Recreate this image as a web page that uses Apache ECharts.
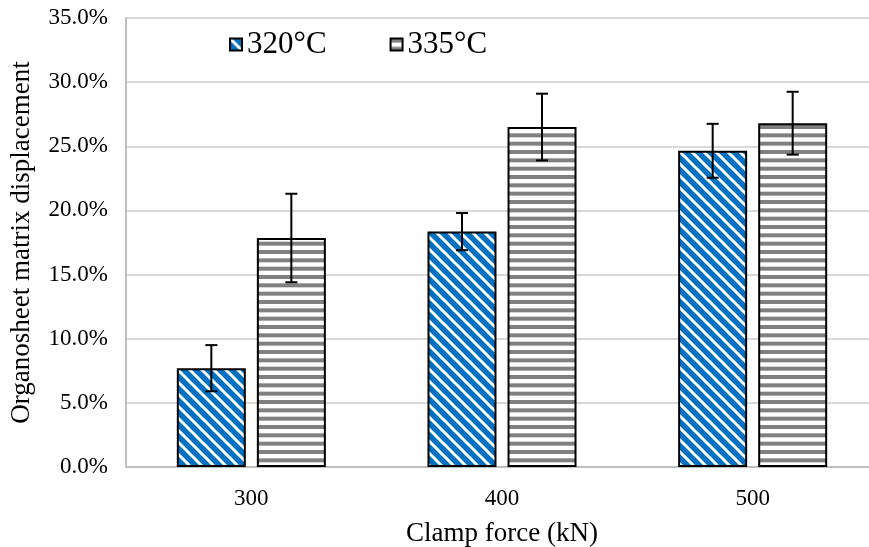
<!DOCTYPE html>
<html>
<head>
<meta charset="utf-8">
<title>Organosheet matrix displacement</title>
<script src="https://cdn.jsdelivr.net/npm/echarts@6/dist/echarts.min.js"></script>
<style>
  html, body { margin: 0; padding: 0; background: #fff; }
  #chart { width: 869px; height: 547px; }
</style>
</head>
<body>
<div id="chart"></div>
<script>
// ===== 数据 =====
const categories = ['300', '400', '500']
const seriesNames = ['320°C', '335°C']
const values320 = [7.7, 18.35, 24.65]
const errors320 = [1.8, 1.45, 2.1]
const values335 = [17.85, 26.5, 26.8]
const errors335 = [3.45, 2.6, 2.45]

const FONT = '"Liberation Serif", "Times New Roman", serif'
const BAR_W = 69
const BAR_OFFSET = 40

// ===== 填充图案 =====
function diagonalPattern() {
  const c = document.createElement('canvas')
  c.width = 12
  c.height = 12
  const ctx = c.getContext('2d')
  ctx.fillStyle = '#0070C0'
  ctx.fillRect(0, 0, 12, 12)
  ctx.strokeStyle = '#ffffff'
  ctx.lineWidth = 3
  for (let k = -1; k <= 1; k++) {
    ctx.beginPath()
    ctx.moveTo(k * 12 - 2, -2)
    ctx.lineTo(k * 12 + 14, 14)
    ctx.stroke()
  }
  return c
}

function stripePattern() {
  const c = document.createElement('canvas')
  c.width = 10
  c.height = 25
  const ctx = c.getContext('2d')
  ctx.fillStyle = '#ffffff'
  ctx.fillRect(0, 0, 10, 25)
  ctx.fillStyle = '#808080'
  for (let i = 0; i < 3; i++) {
    ctx.fillRect(0, i * 25 / 3, 10, 4)
  }
  return c
}

// ===== 误差线 =====
function errorBars(offset) {
  return function (params, api) {
    const x = api.value(0)
    const lo = api.coord([x, api.value(1)])
    const hi = api.coord([x, api.value(2)])
    const cx = lo[0] + offset
    const half = 6
    const style = { stroke: '#000', lineWidth: 2 }
    return {
      type: 'group',
      children: [
        { type: 'line', shape: { x1: cx, y1: hi[1], x2: cx, y2: lo[1] }, style },
        { type: 'line', shape: { x1: cx - half, y1: hi[1], x2: cx + half, y2: hi[1] }, style },
        { type: 'line', shape: { x1: cx - half, y1: lo[1], x2: cx + half, y2: lo[1] }, style },
      ],
    }
  }
}

const err320 = values320.map((v, i) => [i, v - errors320[i], v + errors320[i]])
const err335 = values335.map((v, i) => [i, v - errors335[i], v + errors335[i]])

const chart = echarts.init(document.getElementById('chart'), null, { renderer: 'canvas' })

chart.setOption({
  animation: false,
  backgroundColor: '#fff',
  textStyle: { fontFamily: FONT, color: '#000' },
  legend: {
    data: seriesNames,
    left: 224,
    top: 24,
    itemWidth: 12,
    itemHeight: 12,
    itemGap: 63,
    icon: 'rect',
    textStyle: { fontFamily: FONT, fontSize: 31, color: '#000' },
  },
  grid: { left: 126, top: 18, width: 752, height: 449, outerBoundsMode: 'none' },
  xAxis: {
    type: 'category',
    data: categories,
    name: 'Clamp force (kN)',
    nameLocation: 'middle',
    nameGap: 53,
    nameTextStyle: { fontFamily: FONT, fontSize: 27, color: '#000' },
    axisLine: { lineStyle: { color: '#bfbfbf', width: 2 } },
    axisTick: { show: false },
    axisLabel: { fontFamily: FONT, fontSize: 23, color: '#000', margin: 20 },
  },
  yAxis: {
    type: 'value',
    min: 0,
    max: 35,
    interval: 5,
    name: 'Organosheet matrix displacement',
    nameLocation: 'middle',
    nameGap: 91,
    nameTextStyle: { fontFamily: FONT, fontSize: 27, color: '#000' },
    axisLine: { show: true, lineStyle: { color: '#bfbfbf', width: 2 } },
    axisTick: { show: false },
    axisLabel: {
      fontFamily: FONT,
      fontSize: 23,
      color: '#000',
      margin: 18,
      formatter: (v) => v.toFixed(1) + '%',
    },
    splitLine: { lineStyle: { color: '#d9d9d9', width: 2 } },
  },
  series: [
    {
      name: '320°C',
      type: 'bar',
      data: values320,
      barWidth: BAR_W,
      barGap: '16%',
      itemStyle: {
        color: { image: diagonalPattern(), repeat: 'repeat' },
        borderColor: '#000',
        borderWidth: 2,
      },
    },
    {
      name: '335°C',
      type: 'bar',
      data: values335,
      barWidth: BAR_W,
      barGap: '16%',
      itemStyle: {
        color: { image: stripePattern(), repeat: 'repeat' },
        borderColor: '#000',
        borderWidth: 2,
      },
    },
    {
      type: 'custom',
      renderItem: errorBars(-BAR_OFFSET),
      data: err320,
      encode: { x: 0, y: [1, 2] },
      z: 10,
    },
    {
      type: 'custom',
      renderItem: errorBars(BAR_OFFSET),
      data: err335,
      encode: { x: 0, y: [1, 2] },
      z: 10,
    },
  ],
})
</script>
</body>
</html>
